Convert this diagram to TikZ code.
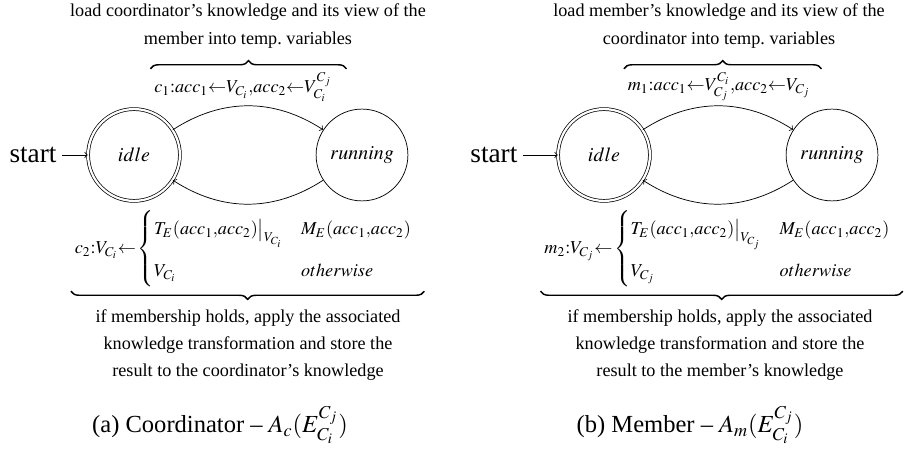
\documentclass[tikz,border=0pt]{standalone}
\usepackage{amsmath}
\usepackage{mathptmx}
\usepackage{fontspec}
\setmainfont{Liberation Serif}
\usetikzlibrary{positioning,decorations.pathreplacing}

\begin{document}
\begin{tikzpicture}[x=0.55pt, y=-0.55pt, font=\fontsize{10}{15}\selectfont, >=to, thin,
		mstate/.style={circle, draw, minimum size=50.5pt, inner sep=0pt, font=\fontsize{11}{13}\selectfont},
		note/.style={align=center, inner sep=0pt},
		brc/.style={decorate, decoration={brace, amplitude=4.5pt}, line width=0.8pt},
		big/.style={font=\fontsize{15}{18}\selectfont, inner sep=3pt},
		subcap/.style={font=\fontsize{13.5}{16}\selectfont}]
	\useasboundingbox (0,0) rectangle (914,451);
	% (a) coordinator
	\node[mstate, double, double distance=1.2pt] (idleC) at (134,155) {$idle$};
	\node[mstate] (runC) at (362,155) {$running$};
	\node[big, left=14pt of idleC] (startC) {start};
	\draw[->] (startC) -- (idleC);
	\draw[->] (idleC) to[out=33, in=147] (runC);
	\draw[->] (runC) to[out=-147, in=-33] (idleC);
	\node[note] (loadC) at (248,26) {load coordinator’s knowledge and its view of the\\member into temp.\ variables};
	\node[inner sep=2pt] (c1C) at (243,87) {$c_1{:}acc_1{\leftarrow}V_{C_i}{,}acc_2{\leftarrow}V^{C_j}_{C_i}$};
	\draw[brc] (c1C.north west) -- ([xshift=6pt]c1C.north east);
	\node[inner sep=2pt] (c2C) at (244,249) {$c_2{:}V_{C_i}{\leftarrow}\begin{cases} T_E(acc_1{,}acc_2)\big|_{V_{C_i}} & M_E(acc_1{,}acc_2)\\[5pt] V_{C_i} & otherwise\end{cases}$};
	\draw[brc] ([xshift=4pt]c2C.south east) -- (c2C.south west);
	\node[note] (resC) at (248,345) {if membership holds, apply the associated\\knowledge transformation and store the\\result to the coordinator’s knowledge};
	\node[subcap] (capC) at (220,425) {(a) Coordinator -- $A_c(E^{C_j}_{C_i})$};
	% (b) member
	\begin{scope}[shift={(470,0)}]
		\node[mstate, double, double distance=1.2pt] (idleM) at (134,155) {$idle$};
		\node[mstate] (runM) at (362,155) {$running$};
		\node[big, left=19pt of idleM] (startM) {start};
		\draw[->] (startM) -- (idleM);
		\draw[->] (idleM) to[out=33, in=147] (runM);
		\draw[->] (runM) to[out=-147, in=-33] (idleM);
		\node[note] (loadM) at (249,26) {load member’s knowledge and its view of the\\coordinator into temp.\ variables};
		\node[inner sep=2pt] (m1M) at (249,87) {$m_1{:}acc_1{\leftarrow}V^{C_i}_{C_j}{,}acc_2{\leftarrow}V_{C_j}$};
		\draw[brc] (m1M.north west) -- ([xshift=4pt]m1M.north east);
		\node[inner sep=2pt] (m2M) at (248,249) {$m_2{:}V_{C_j}{\leftarrow}\begin{cases} T_E(acc_1{,}acc_2)\big|_{V_{C_j}} & M_E(acc_1{,}acc_2)\\[5pt] V_{C_j} & otherwise\end{cases}$};
		\draw[brc] ([xshift=4pt]m2M.south east) -- (m2M.south west);
		\node[note] (resM) at (250,345) {if membership holds, apply the associated\\knowledge transformation and store the\\result to the member’s knowledge};
		\node[subcap] (capM) at (220,425) {(b) Member -- $A_m(E^{C_j}_{C_i})$};
	\end{scope}
\end{tikzpicture}
\end{document}
